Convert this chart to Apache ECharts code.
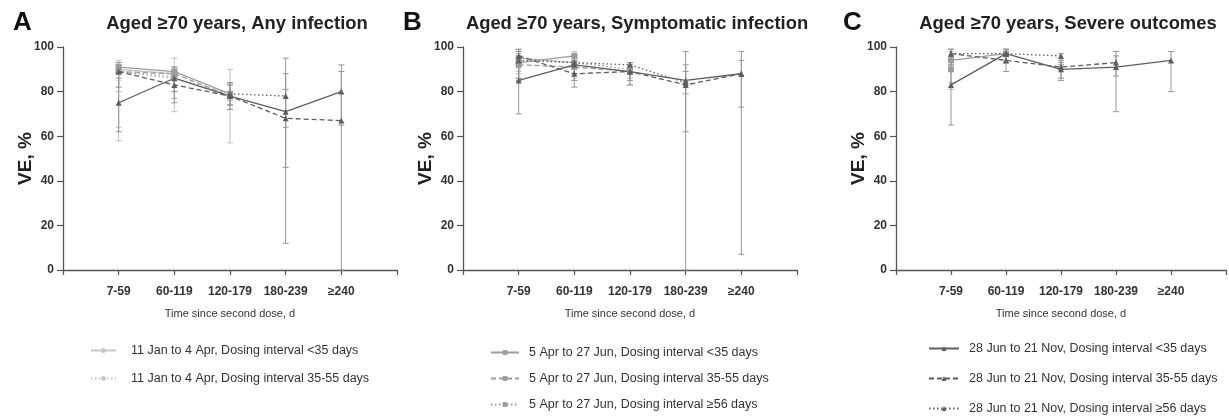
<!DOCTYPE html>
<html>
<head>
<meta charset="utf-8">
<script src="https://cdn.jsdelivr.net/npm/echarts/dist/echarts.min.js"></script>
<style>
html,body{margin:0;padding:0;background:#fff;}
#chart{width:1229px;height:417px;}
</style>
</head>
<body>
<div id="chart"></div>
<script>
// ---------- DATA ----------
const timeCategories = ['7-59', '60-119', '120-179', '180-239', '≥240'];
const yTickValues = [0, 20, 40, 60, 80, 100];
const panelLetters = ['A', 'B', 'C'];
const panelTitles = ['Aged ≥70 years, Any infection', 'Aged ≥70 years, Symptomatic infection', 'Aged ≥70 years, Severe outcomes'];
const seriesNames = [
  '11 Jan to 4 Apr, Dosing interval <35 days',
  '11 Jan to 4 Apr, Dosing interval 35-55 days',
  '5 Apr to 27 Jun, Dosing interval <35 days',
  '5 Apr to 27 Jun, Dosing interval 35-55 days',
  '5 Apr to 27 Jun, Dosing interval ≥56 days',
  '28 Jun to 21 Nov, Dosing interval <35 days',
  '28 Jun to 21 Nov, Dosing interval 35-55 days',
  '28 Jun to 21 Nov, Dosing interval ≥56 days'
];

// Panel A: Any infection (VE %, and 95% CI [low, high])
const A_p1a = [90, 88, null, null, null];
const A_p1a_ci = [[85, 93], [80, 91], null, null, null];
const A_p1b = [89, 87, null, null, null];
const A_p1b_ci = [[82, 92], [77, 90], null, null, null];
const A_p2a = [91, 89, 79, null, null];
const A_p2a_ci = [[64, 94], [71, 95], [57, 90], null, null];
const A_p2b = [89, 88, 78, null, null];
const A_p2b_ci = [[80, 93], [80, 91], [72, 84], null, null];
const A_p2c = [89, 86, 79, null, null];
const A_p2c_ci = [[58, 92], [77, 90], [76, 83], null, null];
const A_p3a = [75, 86, 78, 71, 80];
const A_p3a_ci = [[62, 86], [80, 91], [74, 83], [12, 95], [0, 92]];
const A_p3b = [89, 83, 78, 68, 67];
const A_p3b_ci = [[82, 93], [75, 88], [72, 84], [46, 81], [65, 89]];
const A_p3c = [null, null, 79, 78, null];
const A_p3c_ci = [null, null, [74, 84], [64, 88], null];

// Panel B: Symptomatic infection
const B_p1a = [95, 93, null, null, null];
const B_p1a_ci = [[90, 98], [86, 97], null, null, null];
const B_p1b = [null, null, null, null, null];
const B_p1b_ci = [null, null, null, null, null];
const B_p2a = [93, 96, null, null, null];
const B_p2a_ci = [[86, 98], [94, 98], null, null, null];
const B_p2b = [92, 91, 89, null, null];
const B_p2b_ci = [[88, 97], [85, 95], [83, 93], null, null];
const B_p2c = [95, 93, 90, null, null];
const B_p2c_ci = [[89, 99], [88, 97], [86, 93], null, null];
const B_p3a = [85, 92, 89, 85, 88];
const B_p3a_ci = [[70, 93], [85, 96], [85, 92], [62, 92], [73, 94]];
const B_p3b = [96, 88, 89, 83, 88];
const B_p3b_ci = [[86, 99], [82, 92], [83, 93], [0, 98], [7, 98]];
const B_p3c = [94, 93, 92, 84, null];
const B_p3c_ci = [[85, 98], [88, 96], [89, 93], [79, 89], null];

// Panel C: Severe outcomes
const C_p1a = [null, null, null, null, null];
const C_p1a_ci = [null, null, null, null, null];
const C_p1b = [null, null, null, null, null];
const C_p1b_ci = [null, null, null, null, null];
const C_p2a = [94, 97, null, null, null];
const C_p2a_ci = [[84, 98], [94, 99], null, null, null];
const C_p2b = [90, null, null, null, null];
const C_p2b_ci = [[81, 95], null, null, null, null];
const C_p2c = [null, null, null, null, null];
const C_p2c_ci = [null, null, null, null, null];
const C_p3a = [83, 97, 90, 91, 94];
const C_p3a_ci = [[65, 92], [93, 99], [85, 93], [71, 98], [80, 98]];
const C_p3b = [97, 94, 91, 93, null];
const C_p3b_ci = [[90, 99], [89, 97], [86, 94], [87, 96], null];
const C_p3c = [97, 97, 96, null, null];
const C_p3c_ci = [[92, 99], [93, 99], [92, 97], null, null];

// ---------- STYLE / LAYOUT ----------
const FONT = "'Liberation Sans', Arial, sans-serif";
const styles = [
  {color: '#c6c6c6', err: '#d6d6d6', dash: 'solid', symbol: 'circle', size: 5},
  {color: '#c6c6c6', err: '#d6d6d6', dash: [1.5, 2.5], symbol: 'circle', size: 5},
  {color: '#9c9c9c', err: '#c0c0c0', dash: 'solid', symbol: 'rect', size: 6},
  {color: '#9c9c9c', err: '#c0c0c0', dash: [5, 3], symbol: 'rect', size: 6},
  {color: '#9c9c9c', err: '#c0c0c0', dash: [1.5, 2.5], symbol: 'rect', size: 6},
  {color: '#5e5e5e', err: '#979797', dash: 'solid', symbol: 'triangle', size: 6},
  {color: '#5e5e5e', err: '#979797', dash: [5, 3], symbol: 'triangle', size: 6},
  {color: '#5e5e5e', err: '#979797', dash: [1.5, 2.5], symbol: 'triangle', size: 6}
];
const panelData = [
  [[A_p1a, A_p1a_ci], [A_p1b, A_p1b_ci], [A_p2a, A_p2a_ci], [A_p2b, A_p2b_ci], [A_p2c, A_p2c_ci], [A_p3a, A_p3a_ci], [A_p3b, A_p3b_ci], [A_p3c, A_p3c_ci]],
  [[B_p1a, B_p1a_ci], [B_p1b, B_p1b_ci], [B_p2a, B_p2a_ci], [B_p2b, B_p2b_ci], [B_p2c, B_p2c_ci], [B_p3a, B_p3a_ci], [B_p3b, B_p3b_ci], [B_p3c, B_p3c_ci]],
  [[C_p1a, C_p1a_ci], [C_p1b, C_p1b_ci], [C_p2a, C_p2a_ci], [C_p2b, C_p2b_ci], [C_p2c, C_p2c_ci], [C_p3a, C_p3a_ci], [C_p3b, C_p3b_ci], [C_p3c, C_p3c_ci]]
];
const gridLefts = [63, 463, 896];
const gridWidth = 334;
const titleCenters = [237, 637, 1068];
const letterLefts = [13, 403, 843];

const chart = echarts.init(document.getElementById('chart'), null, {renderer: 'canvas'});

const grids = [], xAxes = [], yAxes = [], series = [], titles = [];
panelLetters.forEach((L, p) => {
  grids.push({left: gridLefts[p], top: 47, width: gridWidth, height: 223, containLabel: false});
  xAxes.push({
    type: 'value', gridIndex: p, min: 0, max: timeCategories.length + 1, interval: 1,
    name: 'Time since second dose, d', nameLocation: 'middle', nameGap: 38, nameMoveOverlap: false,
    nameTextStyle: {fontFamily: FONT, fontSize: 11, color: '#333'},
    axisLine: {show: true, onZero: false, lineStyle: {color: '#555', width: 1.3}},
    axisTick: {show: true, length: 5, lineStyle: {color: '#555', width: 1.2}},
    axisLabel: {
      margin: 16, fontFamily: FONT, fontSize: 12, fontWeight: 'bold', color: '#333',
      formatter: v => (v >= 1 && v <= timeCategories.length) ? timeCategories[v - 1] : ''
    },
    splitLine: {show: false}
  });
  yAxes.push({
    type: 'value', gridIndex: p, min: yTickValues[0], max: yTickValues[yTickValues.length - 1],
    interval: yTickValues[1] - yTickValues[0],
    name: 'VE, %', nameLocation: 'middle', nameGap: 28, nameMoveOverlap: false,
    nameTextStyle: {fontFamily: FONT, fontSize: 19, fontWeight: 'bold', color: '#222'},
    axisLine: {show: true, lineStyle: {color: '#555', width: 1.3}},
    axisTick: {show: true, length: 6, lineStyle: {color: '#555', width: 1.2}},
    axisLabel: {margin: 9, fontFamily: FONT, fontSize: 12, fontWeight: 'bold', color: '#333'},
    splitLine: {show: false}
  });
  titles.push({text: L, left: letterLefts[p], top: 10, padding: 0,
    textStyle: {fontFamily: FONT, fontSize: 26, fontWeight: 'bold', color: '#111'}});
  titles.push({text: panelTitles[p], left: titleCenters[p], top: 15, padding: 0, textAlign: 'center',
    textStyle: {fontFamily: FONT, fontSize: 18.4, fontWeight: 'bold', color: '#222'}});

  panelData[p].forEach((pair, s) => {
    const vals = pair[0], ci = pair[1], st = styles[s];
    const errData = [];
    ci.forEach((c, i) => { if (c) errData.push([i + 1, c[0], c[1]]); });
    if (errData.length) {
      series.push({
        type: 'custom', name: 'err-' + p + '-' + s, xAxisIndex: p, yAxisIndex: p, silent: true, z: 1,
        data: errData,
        renderItem: function (params, api) {
          const x = api.value(0);
          const lo = api.coord([x, api.value(1)]);
          const hi = api.coord([x, api.value(2)]);
          const w = 3;
          const style = {stroke: st.err, lineWidth: 1};
          return {type: 'group', children: [
            {type: 'line', shape: {x1: lo[0], y1: lo[1], x2: hi[0], y2: hi[1]}, style: style},
            {type: 'line', shape: {x1: lo[0] - w, y1: lo[1], x2: lo[0] + w, y2: lo[1]}, style: style},
            {type: 'line', shape: {x1: hi[0] - w, y1: hi[1], x2: hi[0] + w, y2: hi[1]}, style: style}
          ]};
        }
      });
    }
    series.push({
      type: 'line', name: seriesNames[s], xAxisIndex: p, yAxisIndex: p, z: 3 + Math.floor(s / 2),
      data: vals.map((v, i) => [i + 1, v]),
      connectNulls: false,
      symbol: st.symbol, symbolSize: st.size,
      lineStyle: {color: st.color, width: 1.3, type: st.dash},
      itemStyle: {color: st.color}
    });
  });
});

const legendText = {fontFamily: FONT, fontSize: 12.5, lineHeight: 15, color: '#333'};
const option = {
  animation: false,
  backgroundColor: '#fff',
  title: titles,
  grid: grids,
  xAxis: xAxes,
  yAxis: yAxes,
  legend: [
    {orient: 'vertical', left: 90, top: 343, height: 90, padding: 0, itemGap: 13, itemWidth: 25, itemHeight: 6,
     data: seriesNames.slice(0, 2), textStyle: Object.assign({padding: [0, 0, 0, 10]}, legendText), selectedMode: false},
    {orient: 'vertical', left: 490, top: 345, height: 90, padding: 0, itemGap: 11, itemWidth: 28, itemHeight: 6,
     data: seriesNames.slice(2, 5), textStyle: Object.assign({padding: [0, 0, 0, 5]}, legendText), selectedMode: false},
    {orient: 'vertical', left: 928, top: 341, height: 90, padding: 0, itemGap: 15, itemWidth: 30, itemHeight: 6,
     data: seriesNames.slice(5, 8), textStyle: Object.assign({padding: [0, 0, 0, 5]}, legendText), selectedMode: false}
  ],
  series: series
};
chart.setOption(option);
</script>
</body>
</html>
